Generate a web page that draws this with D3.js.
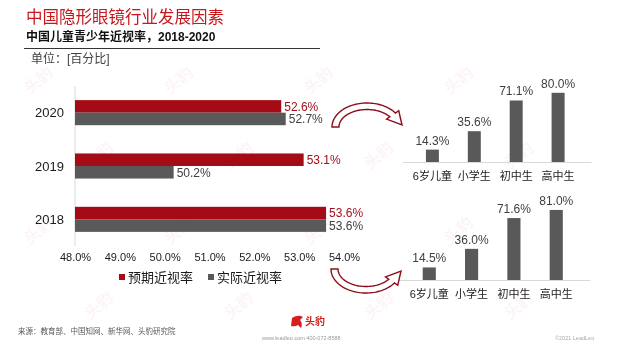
<!DOCTYPE html>
<html>
<head>
<meta charset="utf-8">
<script src="https://cdn.jsdelivr.net/npm/d3@7"></script>
<style>
  body { margin: 0; background: #fff; }
  svg text { font-family: "Liberation Sans", "Noto Sans CJK SC", sans-serif; }
</style>
</head>
<body>
<div id="chart"></div>
<script>
// data
const years = ["2020", "2019", "2018"];
const expectedRate = [52.6, 53.1, 53.6];
const actualRate = [52.7, 50.2, 53.6];
const xTicks = [48, 49, 50, 51, 52, 53, 54];
const groups = ["6岁儿童", "小学生", "初中生", "高中生"];
const rate2020 = [14.3, 35.6, 71.1, 80.0];
const rate2018 = [14.5, 36.0, 71.6, 81.0];

const W = 625, H = 351;
const red = "#a50a17", grey = "#595959", arrowRed = "#8c0d18";

const svg = d3.select("#chart").append("svg")
    .attr("width", W)
    .attr("height", H)

// faint watermarks
const wm = svg.append("g").attr("fill", "#c8161d").attr("opacity", 0.045)
    .attr("font-size", 16).attr("font-weight", "bold")
for (let r = 0; r < 4; r++) {
    for (let c = 0; c < 4; c++) {
        wm.append("text")
            .attr("transform", "translate(" + (30 + c * 140 + (r % 2) * 60) + "," + (95 + r * 75) + ") rotate(-40)")
            .attr("font-family", "Noto Sans CJK SC")
            .text("头豹")
    }
}

// header
svg.append("text").attr("x", 26).attr("y", 23)
    .attr("fill", "#c8161d").attr("font-size", 16.5)
    .attr("font-family", "Noto Sans CJK SC")
    .text("中国隐形眼镜行业发展因素")
svg.append("text").attr("x", 26).attr("y", 41)
    .attr("fill", "#111").attr("font-size", 12).attr("font-weight", "bold")
    .text("中国儿童青少年近视率，2018-2020")
svg.append("line").attr("x1", 24).attr("x2", 320).attr("y1", 48.5).attr("y2", 48.5)
    .attr("stroke", "#333").attr("stroke-width", 1)
svg.append("text").attr("x", 31).attr("y", 63)
    .attr("fill", "#404040").attr("font-size", 12)
    .text("单位：[百分比]")

// main horizontal bar chart
const x = d3.scaleLinear().domain([48, 54]).range([75, 344]);
const y = d3.scaleBand().domain(years).range([86, 246])
    .paddingInner(0.53).paddingOuter(0.265);
const bh = y.bandwidth() / 2;

svg.append("line").attr("x1", x(48)).attr("x2", x(48))
    .attr("y1", 86).attr("y2", 246).attr("stroke", "#d9d9d9")

const rows = years.map((yr, i) => ({ yr, e: expectedRate[i], a: actualRate[i] }));

svg.selectAll(".bar-e").data(rows).enter().append("rect")
    .attr("class", "bar-e")
    .attr("x", x(48))
    .attr("y", d => y(d.yr))
    .attr("width", d => x(d.e) - x(48))
    .attr("height", bh)
    .attr("fill", red)
svg.selectAll(".bar-a").data(rows).enter().append("rect")
    .attr("class", "bar-a")
    .attr("x", x(48))
    .attr("y", d => y(d.yr) + bh)
    .attr("width", d => x(d.a) - x(48))
    .attr("height", bh)
    .attr("fill", grey)

svg.selectAll(".lab-e").data(rows).enter().append("text")
    .attr("x", d => x(d.e) + 3)
    .attr("y", d => y(d.yr) + bh / 2)
    .attr("dy", "0.36em")
    .attr("font-size", 12).attr("fill", "#a0101c")
    .text(d => d.e.toFixed(1) + "%")
svg.selectAll(".lab-a").data(rows).enter().append("text")
    .attr("x", d => x(d.a) + 3)
    .attr("y", d => y(d.yr) + bh * 1.5)
    .attr("dy", "0.36em")
    .attr("font-size", 12).attr("fill", "#404040")
    .text(d => d.a.toFixed(1) + "%")

svg.selectAll(".yr").data(years).enter().append("text")
    .attr("x", 64)
    .attr("y", d => y(d) + bh)
    .attr("dy", "0.36em")
    .attr("text-anchor", "end")
    .attr("font-size", 13).attr("fill", "#1a1a1a")
    .text(d => d)

const xAxis = svg.append("g")
    .attr("transform", "translate(0,250)")
    .call(d3.axisBottom(x).tickValues(xTicks).tickSize(0).tickPadding(3)
        .tickFormat(d => d.toFixed(1) + "%"))
xAxis.select(".domain").remove()
xAxis.selectAll("text")
    .attr("font-size", 11).attr("fill", "#1a1a1a")
    .style("font-family", "'Liberation Sans', sans-serif")

// legend
const legend = [["预期近视率", red, 119], ["实际近视率", grey, 208]];
legend.forEach(([name, col, lx]) => {
    svg.append("rect").attr("x", lx).attr("y", 274).attr("width", 6).attr("height", 6).attr("fill", col)
    svg.append("text").attr("x", lx + 9).attr("y", 277).attr("dy", "0.36em")
        .attr("font-size", 13).attr("fill", "#1a1a1a")
        .attr("font-family", "Noto Sans CJK SC")
        .text(name)
})

// small column charts
function columns(values, x0, x1, base) {
    const bx = d3.scaleBand().domain(groups).range([x0, x1]).padding(0.69);
    const by = d3.scaleLinear().domain([0, 100]).range([base, base - 86.5]);
    const data = groups.map((g, i) => ({ g, v: values[i] }));
    svg.append("line").attr("x1", x0 + 6).attr("x2", x1 - 2)
        .attr("y1", base + 0.5).attr("y2", base + 0.5).attr("stroke", "#d9d9d9")
    svg.selectAll(null).data(data).enter().append("rect")
        .attr("x", d => bx(d.g))
        .attr("y", d => by(d.v))
        .attr("width", bx.bandwidth())
        .attr("height", d => base - by(d.v))
        .attr("fill", grey)
    svg.selectAll(null).data(data).enter().append("text")
        .attr("x", d => bx(d.g) + bx.bandwidth() / 2)
        .attr("y", d => by(d.v) - 5)
        .attr("text-anchor", "middle")
        .attr("font-size", 12).attr("fill", "#404040")
        .text(d => d.v.toFixed(1) + "%")
    svg.selectAll(null).data(data).enter().append("text")
        .attr("x", d => bx(d.g) + bx.bandwidth() / 2)
        .attr("y", base + 14)
        .attr("dy", "0.36em")
        .attr("text-anchor", "middle")
        .attr("font-size", 11).attr("fill", "#1a1a1a")
        .attr("font-family", "Noto Sans CJK SC")
        .text(d => d.g)
}
columns(rate2020, 397, 593.5, 162)
columns(rate2018, 393.5, 592, 280)

// curved hollow arrows
function arrow(cx, cy, flip) {
    const s = flip ? -1 : 1;
    const ro = [35, 24], ri = [28, 17.5];
    const t0 = Math.PI, t1 = 0.62;
    const pt = (r, t) => [cx + r[0] * Math.cos(t), cy - s * r[1] * Math.sin(t)];
    const pts = [];
    for (let t = t0; t >= t1; t -= 0.05) pts.push(pt(ro, t));
    pts.push(pt(ro, t1));
    pts.push(pt([ro[0] + 4, ro[1] + 4], t1));
    pts.push([cx + 35, cy - s * 2]);
    pts.push(pt([ri[0] - 4, ri[1] - 4], t1));
    pts.push(pt(ri, t1));
    for (let t = t1; t <= t0; t += 0.05) pts.push(pt(ri, t));
    pts.push(pt(ri, t0));
    svg.append("path")
        .attr("d", d3.line()(pts) + "Z")
        .attr("fill", "#fff").attr("stroke", arrowRed).attr("stroke-width", 1.4)
        .attr("stroke-linejoin", "miter")
}
arrow(367, 127, false)
arrow(366, 269, true)

// footer
svg.append("text").attr("x", 18).attr("y", 334)
    .attr("font-size", 7.5).attr("fill", "#595959")
    .attr("font-family", "Noto Sans CJK SC")
    .text("来源：教育部、中国知网、新华网、头豹研究院")
svg.append("path")
    .attr("d", "M292,318 q6,-4 11,-1 l-3,3 q3,3 1,8 l-3,-3 q-3,2 -7,1 z")
    .attr("fill", "#d4201f")
svg.append("text").attr("x", 305).attr("y", 325)
    .attr("font-size", 10).attr("font-weight", "bold").attr("fill", "#d4201f")
    .attr("font-family", "Noto Sans CJK SC")
    .text("头豹")
svg.append("text").attr("x", 262).attr("y", 340)
    .attr("font-size", 5.5).attr("fill", "#999")
    .text("www.leadleo.com      400-072-8588")
svg.append("text").attr("x", 555).attr("y", 340)
    .attr("font-size", 5.5).attr("fill", "#aaa")
    .text("©2021 LeadLeo")
</script>
</body>
</html>
